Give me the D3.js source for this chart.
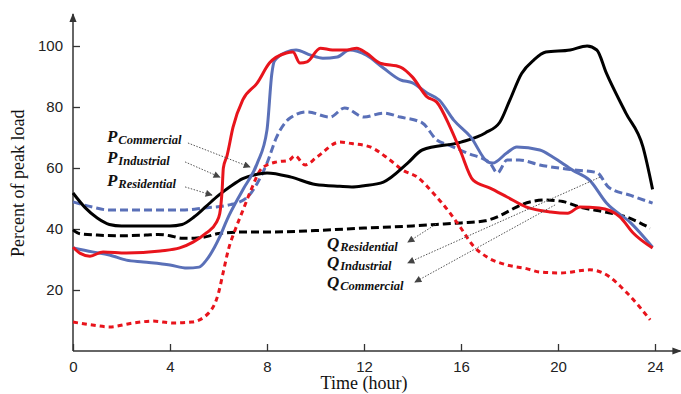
<!DOCTYPE html>
<html>
<head>
<meta charset="utf-8">
<script src="https://cdn.jsdelivr.net/npm/d3@7"></script>
<style>
  body { margin: 0; background: #fff; }
  svg { display: block; }
</style>
</head>
<body>
<div id="chart"></div>
<script>
// values: [hour, percent of peak load]
const blackSolid = [[0,51.8],[0.5,47],[1,43.6],[1.5,41.5],[2,41],[3,41],[4,41],[4.5,41.5],[5,44],[5.5,47.5],[6,51],[6.5,54],[7,56.5],[7.5,57.8],[8,58.4],[9,57],[10,54.6],[11,54],[11.5,53.8],[12,54.2],[12.8,55.4],[13.8,61.6],[14.4,65.9],[16,68.5],[17,71.5],[17.6,75],[18,82],[18.5,91],[19,95.4],[19.5,98],[20.5,98.7],[21.2,100],[21.6,98.7],[22,91],[22.8,78],[23.5,67],[23.9,53]];
const blackDashed = [[0,39.7],[0.3,38.4],[1,38],[2,37.8],[3,38],[3.5,38.2],[4,37.8],[4.5,37],[5,37],[5.5,37.5],[6,38.5],[7,39],[8,39],[10,39.5],[12,40.3],[14,41],[15,41.5],[16,42],[17,42.7],[17.5,44],[18,46],[18.5,48],[19.5,49.5],[20.2,49],[20.9,47.2],[22,45.5],[22.8,44],[23.8,40.3]];
const blueDashed = [[0,48.9],[0.8,47.2],[1.5,46.2],[3,46.2],[4.5,46.2],[5.4,46.9],[6.5,48],[7.2,50.5],[7.6,55],[8,61.6],[8.4,70.2],[8.95,76.4],[9.65,78.4],[10.6,76.7],[11.2,79.7],[12,76.7],[12.8,78],[13.5,76.7],[14.4,74.8],[15,69.2],[15.5,67.5],[16.25,64.9],[17.2,61.6],[17.5,58.4],[17.9,62.6],[18.4,62.6],[19.25,61],[20.5,59.5],[21.6,58.5],[22.1,53.6],[23,51],[23.9,48.5]];
const blueSolid = [[0,33.8],[0.8,32.5],[1.5,31.5],[2.2,29.8],[2.9,29.2],[4,28.2],[4.7,27.2],[5.2,27.5],[5.5,29.8],[6.05,37.4],[6.35,43],[7,52.8],[7.6,61.6],[8,72.5],[8.2,91],[8.3,95],[8.8,98],[9.2,98.7],[9.8,97],[10.3,96],[10.9,96.4],[11.4,98.7],[12.1,97],[12.8,92.8],[13.5,88.9],[14,87.9],[14.6,84.6],[15.1,82.3],[15.7,75.7],[16.4,70.2],[17.1,62],[17.3,61.6],[17.9,65],[18.3,66.9],[19.25,65.9],[19.8,63.5],[20.6,59.3],[21.3,56],[22,48.5],[23,42],[23.9,34]];
const redSolid = [[0,34],[0.3,32],[0.7,31.1],[1.24,32.5],[2.2,32.1],[3.6,32.8],[4.4,33.8],[4.95,35.7],[5.5,38.7],[5.9,42],[6.05,45],[6.15,52.8],[6.2,60],[6.35,64],[6.6,73.4],[7,82.3],[7.6,87.9],[8.1,94.4],[8.8,97.7],[9.07,98],[9.36,94.4],[9.65,94.8],[10.2,99.3],[10.7,98.7],[11.3,98.7],[11.7,99.3],[12.1,97.7],[12.66,94.4],[13.5,93.1],[14,89.8],[14.6,83.3],[15,81.6],[15.55,73.4],[15.96,65.9],[16.5,56],[17.2,53.4],[17.9,50.5],[18.7,47.2],[19.7,45.6],[20.4,45.2],[20.9,47.2],[21.7,46.9],[22.55,44],[23.1,38.7],[23.9,33.8]];
const redDashed = [[0,9.5],[0.8,8.5],[1.5,7.9],[2.5,9.2],[3.3,9.8],[4.1,9.2],[4.9,9.5],[5.6,12.5],[6,19],[6.2,26],[6.4,33],[6.7,40],[7,46],[7.3,52],[7.8,60],[8.4,62],[8.9,62.5],[9.15,64],[9.57,61],[10.06,63.6],[11,68.5],[11.5,68],[12.25,66.9],[13.07,62.6],[13.6,59.3],[14.2,57],[14.85,51.8],[15.55,45.2],[15.96,40.7],[16.5,34.5],[17.07,30.8],[17.9,28.2],[18.7,27],[19.25,25.9],[20.1,25.6],[21.3,26.6],[21.85,25.6],[22.85,19],[23.8,10.2]];

const xTicks = [0, 4, 8, 12, 16, 20, 24];
const yTicks = [20, 40, 60, 80, 100];

// label text and where it sits, [hour, value]
const labelNames = ["Commercial", "Industrial", "Residential"];
const pLabelAt = [[1.4, 68.5], [1.4, 61.6], [1.4, 54]];
const pArrows = [[[4.74, 68.2], [7.3, 60.3]], [[4.62, 62], [6.06, 57]], [[4.62, 53.8], [5.73, 51.1]]];
const qNames = ["Residential", "Industrial", "Commercial"];
const qLabelAt = [[10.47, 33.4], [10.47, 27.2], [10.47, 20.6]];
const qArrows = [[[14.97, 41.6], [13.81, 35.7]], [[21.73, 57], [13.81, 28.9]], [[19.88, 47.9], [14.1, 22.6]]];

const W = 681, H = 394;
const red = "#e8141c", blue = "#5a70b8";

const svg = d3.select("#chart").append("svg")
    .attr("width", W).attr("height", H)
    .style("font-family", "'Liberation Serif', 'DejaVu Serif', serif");

const x = d3.scaleLinear().domain([0, 24]).range([73, 655]);
const y = d3.scaleLinear().domain([0, 100]).range([351, 46]);

const defs = svg.append("defs");
defs.append("marker").attr("id", "axArrow")
    .attr("viewBox", "0 0 10 10").attr("refX", 9).attr("refY", 5)
    .attr("markerWidth", 9).attr("markerHeight", 9).attr("markerUnits", "userSpaceOnUse")
    .attr("orient", "auto")
    .append("path").attr("d", "M0,1 L10,5 L0,9 Z").attr("fill", "#333");
defs.append("marker").attr("id", "smallArrow")
    .attr("viewBox", "0 0 10 10").attr("refX", 9).attr("refY", 5)
    .attr("markerWidth", 8).attr("markerHeight", 7).attr("markerUnits", "userSpaceOnUse")
    .attr("orient", "auto")
    .append("path").attr("d", "M0,0 L10,5 L0,10 Z").attr("fill", "#444");

// axes
svg.append("g")
    .attr("transform", `translate(0,${y(0)})`)
    .call(d3.axisBottom(x).tickValues(xTicks).tickSize(-7).tickPadding(10).tickFormat(d3.format("d")))
    .call(g => g.select(".domain").remove())
    .call(g => g.selectAll("line").attr("stroke", "#333").attr("stroke-width", 1.3))
    .call(g => g.selectAll("text").attr("font-size", 15).attr("fill", "#222").attr("font-family", null));

svg.append("g")
    .attr("transform", `translate(${x(0)},0)`)
    .call(d3.axisLeft(y).tickValues(yTicks).tickSize(-7).tickPadding(10))
    .call(g => g.select(".domain").remove())
    .call(g => g.selectAll("line").attr("stroke", "#333").attr("stroke-width", 1.3))
    .call(g => g.selectAll("text").attr("font-size", 15).attr("fill", "#222").attr("font-family", null));

svg.append("line")
    .attr("x1", x(0)).attr("y1", y(0)).attr("x2", x(25.05)).attr("y2", y(0))
    .attr("stroke", "#333").attr("stroke-width", 1.5).attr("marker-end", "url(#axArrow)");
svg.append("line")
    .attr("x1", x(0)).attr("y1", y(0)).attr("x2", x(0)).attr("y2", y(110.5))
    .attr("stroke", "#333").attr("stroke-width", 1.5).attr("marker-end", "url(#axArrow)");

svg.append("text")
    .attr("x", x(12)).attr("y", 389)
    .attr("text-anchor", "middle").attr("font-size", 18).attr("fill", "#111")
    .text("Time (hour)");
svg.append("text")
    .attr("transform", `translate(24,${y(55)}) rotate(-90)`)
    .attr("text-anchor", "middle").attr("font-size", 18).attr("fill", "#111")
    .text("Percent of peak load");

// curves
const line = d3.line().x(d => x(d[0])).y(d => y(d[1])).curve(d3.curveMonotoneX);
const series = [
  { data: blackDashed, color: "#000", dash: "8,4" },
  { data: blueDashed, color: blue, dash: "8,4" },
  { data: redDashed, color: red, dash: "5,4" },
  { data: blackSolid, color: "#000", dash: null },
  { data: blueSolid, color: blue, dash: null },
  { data: redSolid, color: red, dash: null }
];
svg.append("g").selectAll("path")
    .data(series)
    .join("path")
    .attr("d", d => line(d.data))
    .attr("fill", "none")
    .attr("stroke", d => d.color)
    .attr("stroke-width", 3)
    .attr("stroke-dasharray", d => d.dash);

// annotation arrows
const arrows = pArrows.concat(qArrows);
svg.append("g").selectAll("line")
    .data(arrows)
    .join("line")
    .attr("x1", d => x(d[0][0])).attr("y1", d => y(d[0][1]))
    .attr("x2", d => x(d[1][0])).attr("y2", d => y(d[1][1]))
    .attr("stroke", "#555").attr("stroke-width", 1)
    .attr("stroke-dasharray", "1.5,1.5")
    .attr("marker-end", "url(#smallArrow)");

function addLabel(letter, name, pos) {
  const t = svg.append("text")
      .attr("x", x(pos[0])).attr("y", y(pos[1]))
      .attr("font-weight", "bold").attr("font-style", "italic").attr("fill", "#111");
  t.append("tspan").attr("font-size", 17).text(letter);
  t.append("tspan").attr("font-size", 12.5).attr("dy", 1.5).attr("dx", 1).text(name);
}
labelNames.forEach((n, i) => addLabel("P", n, pLabelAt[i]));
qNames.forEach((n, i) => addLabel("Q", n, qLabelAt[i]));
</script>
</body>
</html>
